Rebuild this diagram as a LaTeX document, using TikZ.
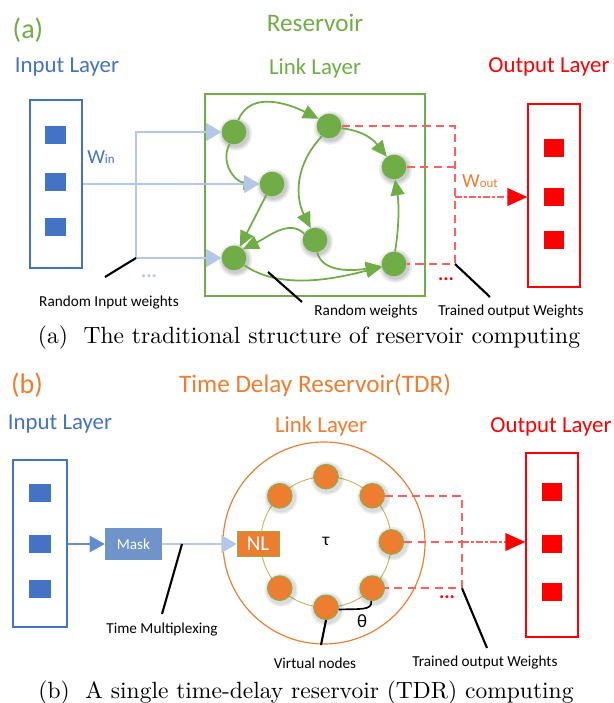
\documentclass[tikz,border=0pt]{standalone}
\usepackage{fontspec}
\newfontfamily\calfont{Carlito}
\usetikzlibrary{arrows.meta,calc}
\definecolor{rgreen}{RGB}{112,173,71}
\definecolor{rblue}{RGB}{68,114,196}
\definecolor{lblue}{RGB}{180,199,231}
\definecolor{rorange}{RGB}{237,125,49}
\definecolor{rred}{RGB}{255,0,0}
\definecolor{dred}{RGB}{255,95,95}
\definecolor{maskblue}{RGB}{112,148,202}
\definecolor{arrblue}{RGB}{98,140,206}
\definecolor{ringgold}{RGB}{205,180,95}
\definecolor{nodeedge}{RGB}{140,175,70}
\newcommand\myfs[1]{\fontsize{#1}{#1}\selectfont}
\begin{document}
\begin{tikzpicture}[x=0.03cm,y=-0.03cm,
  lay/.style={font=\calfont\myfs{19.5}, inner sep=0pt},
  ttl/.style={font=\calfont\myfs{21.5}, inner sep=0pt},
  tag/.style={font=\calfont\myfs{24}, inner sep=0pt},
  note/.style={font=\calfont\myfs{13}, inner sep=0pt},
  gnode/.style={circle, fill=rgreen, minimum size=0.74cm, inner sep=0pt},
  onode/.style={circle, fill=rorange, draw=nodeedge, line width=0.8pt, minimum size=0.74cm, inner sep=0pt},
  glow/.style={fill=black, opacity=0.07},
  garrow/.style={draw=rgreen, line width=1.5pt, -{Triangle[length=13.5pt,width=12pt]}},
  lbarrow/.style={draw=lblue, line width=2.5pt, -{Triangle[length=13pt,width=15pt]}},
  maskarrow/.style={draw=arrblue, line width=2pt, -{Triangle[length=13pt,width=14pt]}},
  reddash/.style={draw=dred, line width=1.7pt, dash pattern=on 7pt off 4.5pt},
  redarrow/.style={draw=dred, line width=1.7pt, dash pattern=on 6pt off 2pt on 2pt off 2pt, -{Triangle[length=17pt,width=15pt,color=rred]}},
  pointer/.style={draw=black, line width=1.8pt},
  bluesq/.style={fill=rblue, minimum width=0.63cm, minimum height=0.55cm, inner sep=0pt},
  redsq/.style={fill=rred, minimum width=0.6cm, minimum height=0.54cm, inner sep=0pt},
  dots/.style={font=\calfont\bfseries\myfs{17}, inner sep=0pt}
]
\useasboundingbox (0,0) rectangle (613,703);
\fill[white] (0,0) rectangle (613,703);

%% ---------------- (a) ----------------
\node[tag, text=rgreen] (taga) at (28,30) {(a)};
\node[ttl, text=rgreen] (resv) at (315,23) {Reservoir};
\node[lay, text=rblue] (inla) at (67,67) {Input Layer};
\node[lay, text=rgreen] (lkla) at (315,68) {Link Layer};
\node[lay, text=rred] (outla) at (549,67) {Output Layer};

\node[draw=rblue, line width=1pt, minimum width=1.56cm, minimum height=5.04cm, inner sep=0pt] (ina) at (56,184) {};
\node[bluesq] (ia1) at (55,135) {};
\node[bluesq] (ia2) at (55,182) {};
\node[bluesq] (ia3) at (55,227) {};

\node[draw=rred, line width=1.2pt, minimum width=1.56cm, minimum height=5.49cm, inner sep=0pt] (outa) at (554,195.5) {};
\node[redsq] (oa1) at (554,148) {};
\node[redsq] (oa2) at (554,197) {};
\node[redsq] (oa3) at (554,240) {};

\node[draw=rgreen, line width=1pt, minimum width=6.6cm, minimum height=6.06cm, inner sep=0pt] (resa) at (315,195) {};

\foreach \p in {(234,132),(272,184),(234,258),(329,126),(394,167),(315,240),(394,264)} {
  \fill[glow] \p ++(1.5,2) circle[radius=0.50cm];
  \fill[glow] \p ++(1.5,2) circle[radius=0.45cm];
  \fill[glow] \p ++(1.5,2) circle[radius=0.41cm];
}
\node[gnode] (n1) at (234,132) {};
\node[gnode] (n2) at (272,184) {};
\node[gnode] (n3) at (234,258) {};
\node[gnode] (n4) at (329,126) {};
\node[gnode] (n5) at (394,167) {};
\node[gnode] (n6) at (315,240) {};
\node[gnode] (n7) at (394,264) {};

\draw[garrow] (n1.70) .. controls +(12,-30) and +(-30,-15) .. (n4.145);
\draw[garrow] (n1.250) .. controls +(-10,18) and +(-25,-2) .. (n2.west);
\draw[garrow] (n2) -- (n3);
\draw[garrow] (n4.235) .. controls +(-28,30) and +(-15,-30) .. (n6.110);
\draw[garrow] (n6.150) .. controls +(-15,-15) and +(25,-12) .. (n3.45);
\draw[garrow] (n3.-35) .. controls +(40,28) and +(-35,8) .. (n7.195);
\draw[garrow] (n6.-80) .. controls +(5,20) and +(-30,5) .. (n7.190);
\draw[garrow] (n4.-10) .. controls +(25,3) and +(-12,-15) .. (n5.125);
\draw[garrow] (n7.85) .. controls +(4,-25) and +(4,25) .. (n5.-85);

\coordinate (ja) at (136,132);
\coordinate (jb) at (136,258);
\draw[lbarrow] (jb) -- (ja) -- (n1.west);
\draw[lbarrow] (ina.east |- n2.west) -- (n2.west);
\draw[lbarrow] (jb) -- (n3.west);
\node[text=rblue, inner sep=0pt] (win) at (101,157) {\calfont\myfs{17}W\myfs{11}in};
\node[dots, text=lblue] (dotsa) at (149,276) {...};

\coordinate (ramid) at (455,197);
\draw[reddash] (n4.east) -- (n4.east -| ramid) -- (n7.east -| ramid) -- (n7.east);
\draw[reddash] (n5.east) -- (n5.east -| ramid);
\draw[redarrow] (ramid) -- (ramid -| outa.west);
\node[text=rorange, inner sep=0pt] (wout) at (480,181) {\calfont\myfs{17}W\myfs{11}out};
\node[dots, text=rred] (dotsra) at (446,279) {...};

\coordinate (pa1) at (105,277);
\draw[pointer] (pa1) -- (jb);
\coordinate (pw1) at (268,272);
\coordinate (pw2) at (302,302);
\draw[pointer] (pw1) -- (pw2);
\coordinate (pt2) at (490,297);
\draw[pointer] (n7.east -| ramid) -- (pt2);

\node[note] (riw) at (109,303) {Random Input weights};
\node[note] (rw) at (366,312) {Random weights};
\node[note] (tow) at (511,312) {Trained output Weights};

\node[inner sep=0pt] (capa) at (309,338) {\resizebox{16.26cm}{!}{(a)~~The traditional structure of reservoir computing}};

%% ---------------- (b) ----------------
\node[tag, text=rorange] (tagb) at (27,385) {(b)};
\node[ttl, text=rorange] (tdr) at (315,385) {Time Delay Reservoir(TDR)};
\node[lay, text=rblue] (inlb) at (60,424) {Input Layer};
\node[lay, text=rorange] (lklb) at (321,426) {Link Layer};
\node[lay, text=rred] (outlb) at (551,427) {Output Layer};

\node[draw=rblue, line width=1pt, minimum width=1.62cm, minimum height=5.01cm, inner sep=0pt] (inb) at (40,543.5) {};
\node[bluesq] (ib1) at (40,493) {};
\node[bluesq] (ib2) at (40,544) {};
\node[bluesq] (ib3) at (40,589) {};

\node[draw=rred, line width=1.2pt, minimum width=1.56cm, minimum height=5.52cm, inner sep=0pt] (outb) at (552,545) {};
\node[redsq] (ob1) at (552,492) {};
\node[redsq] (ob2) at (552,544) {};
\node[redsq] (ob3) at (552,592) {};

\node[fill=maskblue, minimum width=1.71cm, minimum height=0.96cm, inner sep=0pt, text=white, font=\calfont\myfs{13}] (mask) at (133.5,544) {Mask};
\draw[maskarrow] (inb.east |- mask.west) -- (mask.west);

\coordinate (rc) at (326,542);
\coordinate (oc) at (324,543);
\draw[rorange, line width=1pt] (oc) circle[radius=3.03cm];
\draw[ringgold, line width=0.8pt] (rc) circle[radius=1.96cm];

\node[fill=rorange, draw=nodeedge, line width=0.8pt, minimum width=1.26cm, minimum height=0.75cm, inner sep=0pt, text=white, font=\calfont\myfs{18}] (nl) at (258,544) {NL};
\draw[lbarrow] (mask.east) -- (nl.west);

\foreach \a in {90,45,0,-45,-90,-135,135} {
  \fill[glow] ($(rc)+(\a:1.96cm)+(0.04cm,-0.05cm)$) circle[radius=0.50cm];
  \fill[glow] ($(rc)+(\a:1.96cm)+(0.04cm,-0.05cm)$) circle[radius=0.45cm];
}
\node[onode] (v90) at ($(rc)+(90:1.96cm)$) {};
\node[onode] (v45) at ($(rc)+(45:1.96cm)$) {};
\node[onode] (v0) at ($(rc)+(0:1.96cm)$) {};
\node[onode] (vm45) at ($(rc)+(-45:1.96cm)$) {};
\node[onode] (vm90) at ($(rc)+(-90:1.96cm)$) {};
\node[onode] (vm135) at ($(rc)+(-135:1.96cm)$) {};
\node[onode] (v135) at ($(rc)+(135:1.96cm)$) {};

\node[font=\calfont\myfs{15}, inner sep=0pt] (tau) at (326,541) {τ};
\draw[pointer, line width=1.4pt] (vm90.-10) .. controls +(20,-1) and +(2,10) .. (vm45.-95);
\node[font=\calfont\myfs{16}, inner sep=0pt] (theta) at (362,621) {θ};

\coordinate (rbx) at (462,542);
\draw[reddash] (v45.east) -- (v45.east -| rbx) -- (vm45.east -| rbx) -- (vm45.east);
\draw[reddash] (v0.east) -- (rbx);
\draw[redarrow] (rbx) -- (rbx -| outb.west);
\node[dots, text=rred] (dotsrb) at (447,597) {...};

\coordinate (tm1) at (182,544);
\coordinate (tm2) at (162,614);
\draw[pointer] (tm1) -- (tm2);
\coordinate (vn) at (321,645);
\draw[pointer] (vm90.south) -- (vn);
\coordinate (tb2) at (487,648);
\draw[pointer] (vm45.east -| rbx) -- (tb2);

\node[note] (tmx) at (162,630) {Time Multiplexing};
\node[note] (vnt) at (315,663) {Virtual nodes};
\node[note] (towb) at (485,663) {Trained output Weights};

\node[inner sep=0pt] (capb) at (306,693) {\resizebox{16.05cm}{!}{(b)~~A single time-delay reservoir (TDR) computing}};
\end{tikzpicture}
\end{document}
